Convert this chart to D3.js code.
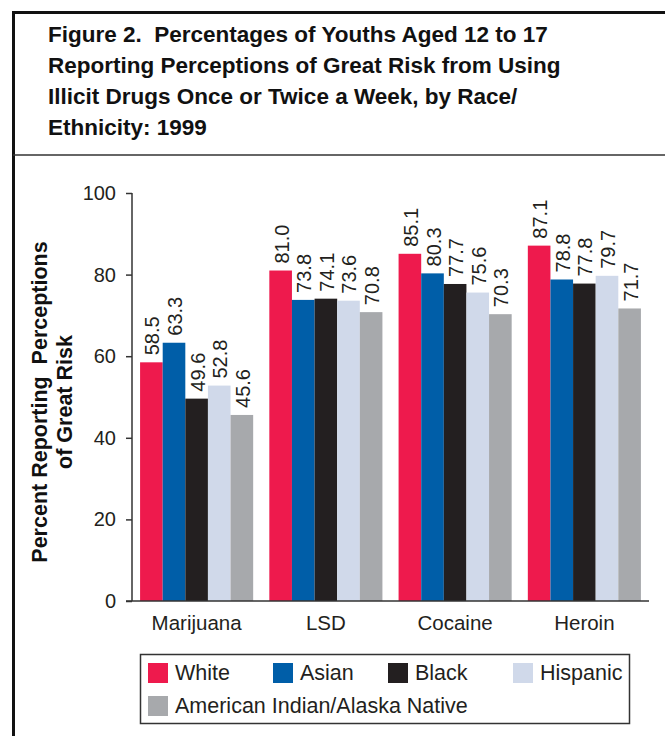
<!DOCTYPE html>
<html>
<head>
<meta charset="utf-8">
<script src="https://cdn.jsdelivr.net/npm/d3@7"></script>
<style>
  html, body { margin: 0; padding: 0; background: #fff; }
  svg { display: block; font-family: "Liberation Sans", Arial, sans-serif; }
</style>
</head>
<body>
<svg id="chart" width="665" height="736"></svg>
<script>
// Perceived great risk of weekly drug use among youths, by race/ethnicity (1999)
const drugs = ["Marijuana", "LSD", "Cocaine", "Heroin"];
const groups = ["White", "Asian", "Black", "Hispanic", "American Indian/Alaska Native"];
const white    = [58.5, 81.0, 85.1, 87.1];
const asian    = [63.3, 73.8, 80.3, 78.8];
const black    = [49.6, 74.1, 77.7, 77.8];
const hispanic = [52.8, 73.6, 75.6, 79.7];
const aian     = [45.6, 70.8, 70.3, 71.7];
const yTicks = [0, 20, 40, 60, 80, 100];
const titleLines = [
  "Figure 2.  Percentages of Youths Aged 12 to 17",
  "Reporting Perceptions of Great Risk from Using",
  "Illicit Drugs Once or Twice a Week, by Race/",
  "Ethnicity: 1999"
];
const yTitleLines = ["Percent Reporting  Perceptions", "of Great Risk"];
const colors = ["#ee1a4d", "#005ea8", "#231f20", "#d0d9ea", "#a7a9ac"];

const seriesValues = [white, asian, black, hispanic, aian];
const rows = drugs.map((d, i) => ({
  drug: d,
  values: groups.map((g, j) => ({ group: g, value: seriesValues[j][i] }))
}));

const svg = d3.select("#chart");
const textColor = "#231f20";

// Frame around the figure
svg.append("line").attr("x1", 13.5).attr("x2", 13.5).attr("y1", 11).attr("y2", 736)
  .attr("stroke", "#111").attr("stroke-width", 3);
svg.append("line").attr("x1", 12).attr("x2", 665).attr("y1", 12.5).attr("y2", 12.5)
  .attr("stroke", "#111").attr("stroke-width", 3);
svg.append("line").attr("x1", 13).attr("x2", 665).attr("y1", 155).attr("y2", 155)
  .attr("stroke", "#333").attr("stroke-width", 1.5);

// Title
svg.append("g").selectAll("text").data(titleLines).join("text")
  .attr("x", 48).attr("y", (d, i) => 42 + i * 31)
  .attr("font-size", 22.5).attr("font-weight", "bold").attr("fill", "#111")
  .attr("xml:space", "preserve")
  .text(d => d);

// Scales
const x0 = d3.scaleBand().domain(drugs).range([132, 649])
  .paddingInner(0.125).paddingOuter(0.0625);
const x1 = d3.scaleBand().domain(groups).range([0, x0.bandwidth()]);
const y = d3.scaleLinear().domain([0, 100]).range([601, 193]);
const color = d3.scaleOrdinal().domain(groups).range(colors);

// Bars
const gBars = svg.append("g");
const grp = gBars.selectAll("g").data(rows).join("g")
  .attr("transform", d => `translate(${x0(d.drug)},0)`);
grp.selectAll("rect").data(d => d.values).join("rect")
  .attr("x", d => x1(d.group))
  .attr("y", d => y(d.value))
  .attr("width", x1.bandwidth())
  .attr("height", d => y(0) - y(d.value))
  .attr("fill", d => color(d.group));

// Value labels (rotated)
grp.selectAll("text").data(d => d.values).join("text")
  .attr("transform", d => `translate(${x1(d.group) + x1.bandwidth() / 2 + 1},${y(d.value) - 7}) rotate(-90)`)
  .attr("dy", "0.35em")
  .attr("font-size", 20).attr("fill", textColor)
  .text(d => d.value.toFixed(1));

// Y axis
const yAxis = svg.append("g").attr("transform", "translate(132,0)")
  .call(d3.axisLeft(y).tickValues(yTicks).tickSize(6).tickPadding(10));
yAxis.select(".domain").attr("stroke", "#333").attr("stroke-width", 1.5)
  .attr("d", `M0,${y(100)}V${y(0)}`);
yAxis.selectAll(".tick line").attr("stroke", "#333").attr("stroke-width", 1.5);
yAxis.selectAll(".tick text").attr("font-size", 20).attr("fill", textColor)
  .attr("font-family", "Liberation Sans, Arial, sans-serif");

// X axis baseline and category labels
svg.append("line").attr("x1", 126).attr("x2", 649).attr("y1", y(0)).attr("y2", y(0))
  .attr("stroke", "#333").attr("stroke-width", 1.5);
const xAxis = svg.append("g").attr("transform", `translate(0,${y(0)})`)
  .call(d3.axisBottom(x0).tickSize(0).tickPadding(14));
xAxis.select(".domain").remove();
xAxis.selectAll(".tick text").attr("font-size", 20.5).attr("fill", textColor)
  .attr("font-family", "Liberation Sans, Arial, sans-serif");

// Y axis title
svg.append("g").attr("transform", "translate(47,402) rotate(-90)")
  .selectAll("text").data(yTitleLines).join("text")
  .attr("x", 0).attr("y", (d, i) => i * 25)
  .attr("text-anchor", "middle")
  .attr("xml:space", "preserve")
  .attr("font-size", 21.5).attr("font-weight", "bold").attr("fill", "#111")
  .text(d => d);

// Legend
const legend = svg.append("g");
legend.append("rect").attr("x", 140.5).attr("y", 654.5).attr("width", 489).attr("height", 69)
  .attr("fill", "none").attr("stroke", "#333").attr("stroke-width", 1.5);
const legendPos = [
  { x: 148, y: 663 }, { x: 273, y: 663 }, { x: 388, y: 663 }, { x: 513, y: 663 }, { x: 148, y: 696 }
];
const items = legend.selectAll("g.item").data(groups).join("g").attr("class", "item")
  .attr("transform", (d, i) => `translate(${legendPos[i].x},${legendPos[i].y})`);
items.append("rect").attr("width", 20).attr("height", 20).attr("fill", d => color(d));
items.append("text").attr("x", 27).attr("y", 17)
  .attr("font-size", 21.5).attr("fill", textColor).text(d => d);
</script>
</body>
</html>
